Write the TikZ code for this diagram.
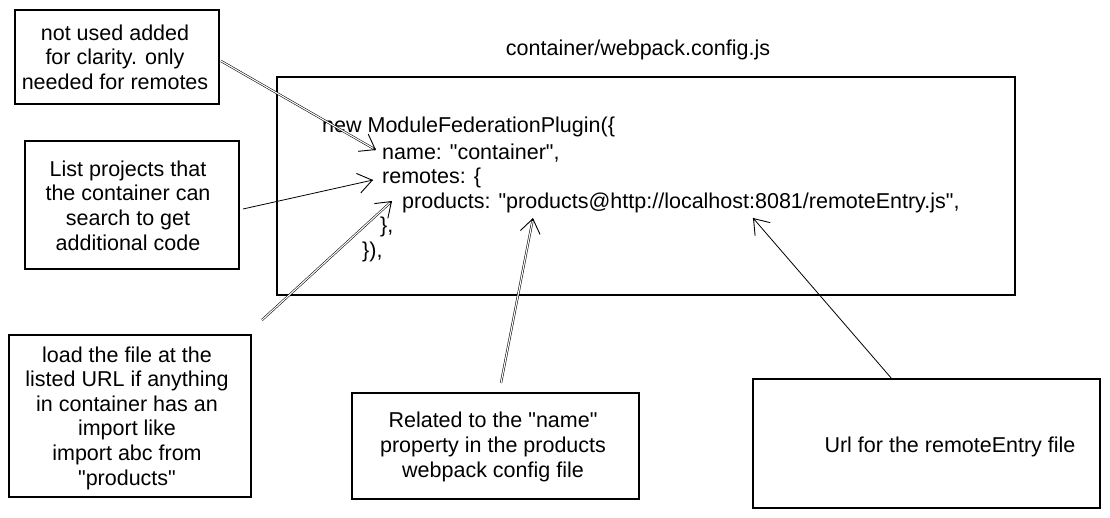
\documentclass[tikz,border=0pt]{standalone}
\usepackage{fontspec}
\setmainfont{Liberation Sans}[Ligatures=TeXOff]
\usetikzlibrary{arrows.meta,calc}
\newcommand{\dq}{\symbol{34}}
\begin{document}
\begin{tikzpicture}[x=1pt,y=-1pt,
  every node/.style={font=\fontsize{21.5}{24.6}\selectfont},
  notebox/.style={draw=black, line width=1.1pt, inner sep=0pt},
  codetext/.style={anchor=west, inner sep=0pt},
  boxtext/.style={align=center, inner sep=0pt},
  conn/.style={line width=0.8pt},
  dbl/.style={double=white, double distance=1.1pt, line width=0.55pt},
  tip/.style={-{Straight Barb[length=14pt,width=20pt,line width=0.9pt]}, line width=0.9pt}
]
\useasboundingbox[fill=white] (0,0) rectangle (1110,518);

% title and main box
\node[inner sep=0pt] (title) at (638,50) {container/webpack.config.js};
\node[notebox, minimum width=738pt, minimum height=218pt] (main) at (646,186) {};

% code lines
\node[codetext] (l1) at (322,127) {new ModuleFederationPlugin(\{};
\node[codetext] (l2) at (382,153) {name: \dq container\dq,};
\node[codetext] (l3) at (382,178) {remotes: \{};
\node[codetext] (l4) at (402,203) {products: \dq products@http://localhost:8081/remoteEntry.js\dq,};
\node[codetext] (l5) at (380,227) {\},};
\node[codetext] (l6) at (362,252) {\}),};

% note boxes
\node[notebox, minimum width=204pt, minimum height=94pt] (boxA) at (117,57) {};
\node[boxtext] (txtA) at (115,57) {not used added\\for clarity. only\\needed for remotes};

\node[notebox, minimum width=214pt, minimum height=128pt] (boxB) at (132,205) {};
\node[boxtext] (txtB) at (128,205.5) {List projects that\\the container can\\search to get\\additional code};

\node[notebox, minimum width=242pt, minimum height=162pt] (boxC) at (130,416) {};
\node[boxtext] (txtC) at (127,418) {load the file at the\\listed URL if anything\\in container has an\\import like\\import abc from\\\dq products\dq};

\node[notebox, minimum width=287pt, minimum height=106pt] (boxD) at (495.5,446) {};
\node[boxtext] (txtD) at (493,447) {Related to the \dq name\dq\\property in the products\\webpack config file};

\node[notebox, minimum width=347pt, minimum height=129pt] (boxE) at (926.5,443.5) {};
\node[boxtext] (txtE) at (950,447) {Url for the remoteEntry file};

% connector end points
\coordinate (sA) at (221,61);
\coordinate (tA) at (376,150);
\coordinate (sB) at (243,209);
\coordinate (tB) at (373,180);
\coordinate (sC) at (262,320);
\coordinate (tC) at (392,201);
\coordinate (sD) at (501,383);
\coordinate (tD) at (533,218);
\coordinate (sE) at (892,379);
\coordinate (tE) at (753,218);

% connectors
\draw[dbl] (sA) -- ($(tA)!1pt!(sA)$);
\draw[tip] ($(tA)!3pt!(sA)$) -- (tA);

\draw[conn] (sB) -- (tB);
\draw[tip] ($(tB)!3pt!(sB)$) -- (tB);

\draw[dbl] (sC) -- ($(tC)!1pt!(sC)$);
\draw[tip] ($(tC)!3pt!(sC)$) -- (tC);

\draw[dbl] (sD) -- ($(tD)!1pt!(sD)$);
\draw[tip] ($(tD)!3pt!(sD)$) -- (tD);

\draw[conn] (sE) -- (tE);
\draw[tip] ($(tE)!3pt!(sE)$) -- (tE);
\end{tikzpicture}
\end{document}
